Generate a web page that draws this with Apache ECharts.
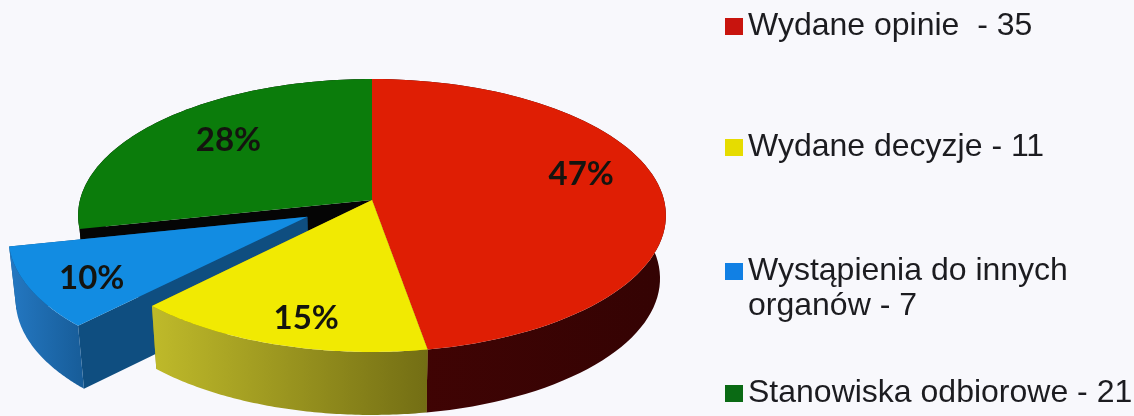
<!DOCTYPE html>
<html><head><meta charset="utf-8">
<style>html,body{margin:0;padding:0;background:#f8f8fc}#c{width:1134px;height:416px}</style>
<script src="https://cdn.jsdelivr.net/npm/echarts@6/dist/echarts.min.js"></script>
</head><body><div id="c"></div>
<script>
// Data
const names = ['Wydane opinie  - 35','Wydane decyzje - 11','Wystąpienia do innych\norganów - 7','Stanowiska odbiorowe - 21'];
const values = [35, 11, 7, 21];
const percentLabels = ['47%','15%','10%','28%'];

// Styling and layout
const topColors = ['#df1e04','#f1ea02','#128ce2','#0b7c0b'];
const legendColors = ['#c8140e','#e6dc00','#1180e4','#0a6a14'];
const wallFrom = ['#420404','#bfba2a','#2478c2','#050505'];
const wallTo = ['#340303','#736e14','#175c98','#050505'];
const cutColors = ['#5c0707','#8a8416','#0f4e80','#050505'];
const explode = [0, 0, 0.25, 0];
const labelFrac = [0.71, 0.62, 0.72, 0.58];
const labelNudge = [[4,-18],[-9,33],[-19,11],[-17,-13]];
const legendTops = [4, 125, 214, 371];
const paintOrder = [3, 2, 0, 1];
const CX = 372, CY = 200, RX = 292, RY = 134.7, K = 0.1135, DEPTH = 63, SHRINK = 0.98;
const FONT = 'Liberation Sans';

const total = values.reduce((a, b) => a + b, 0);
const startAngle = [];
values.reduce((acc, v, i) => { startAngle[i] = acc; return acc + v / total * Math.PI * 2; }, 0);

function project(X, Y) {
  const w = 1 - K * Y;
  return [CX + RX * X / w, CY + RY * Y / w];
}
function lower(p) { return [CX + (p[0] - CX) * SHRINK, p[1] + DEPTH]; }

function renderSlice(i) {
  const a0 = startAngle[i];
  const a1 = a0 + values[i] / total * Math.PI * 2;
  const mid = (a0 + a1) / 2;
  const ox = Math.sin(mid) * explode[i], oy = -Math.cos(mid) * explode[i];
  const rim = [];
  const n = 80;
  for (let s = 0; s <= n; s++) {
    const a = a0 + (a1 - a0) * s / n;
    rim.push(project(Math.sin(a) + ox, -Math.cos(a) + oy));
  }
  const apex = project(ox, oy);
  const first = rim[0], last = rim[n];
  const wallPts = rim.concat(rim.slice().reverse().map(lower));
  const grad = new echarts.graphic.LinearGradient(0, 0, 1, 0, [
    { offset: 0, color: wallFrom[i] },
    { offset: 1, color: wallTo[i] }
  ]);
  const poly = (pts, fill) => ({ type: 'polygon', shape: { points: pts }, style: { fill: fill }, silent: true });
  const lab = project(Math.sin(mid) * labelFrac[i] + ox, -Math.cos(mid) * labelFrac[i] + oy);
  return {
    type: 'group',
    children: [
      poly([apex, last, lower(last), lower(apex)], cutColors[i]),
      poly([apex, first, lower(first), lower(apex)], cutColors[i]),
      poly(wallPts, grad),
      poly([apex].concat(rim), topColors[i]),
      { type: 'text', silent: true, x: lab[0] + labelNudge[i][0], y: lab[1] + labelNudge[i][1],
        style: { text: percentLabels[i], fontFamily: 'Lato', fontWeight: 'bold', fontSize: 33,
                 fill: '#14140f', align: 'center', verticalAlign: 'middle' } }
    ]
  };
}

const chart = echarts.init(document.getElementById('c'), null, { renderer: 'canvas' });
chart.setOption({
  animation: false,
  backgroundColor: '#f8f8fc',
  tooltip: { show: false },
  legend: names.map((nm, i) => ({
    data: [{ name: nm, icon: 'rect', itemStyle: { color: legendColors[i] } }],
    left: 720, top: legendTops[i], orient: 'vertical', selectedMode: false,
    itemWidth: 18, itemHeight: 17, itemGap: 0,
    formatter: n => (n.indexOf('\n') >= 0 ? '\n' + n : n),
    textStyle: { color: '#1c1c20', fontFamily: FONT, fontSize: 32, lineHeight: 35 }
  })),
  series: paintOrder.map(i => ({
    type: 'custom', name: names[i], coordinateSystem: 'none', silent: true,
    itemStyle: { color: legendColors[i] },
    data: [[values[i]]],
    renderItem: () => renderSlice(i)
  }))
});
</script></body></html>
